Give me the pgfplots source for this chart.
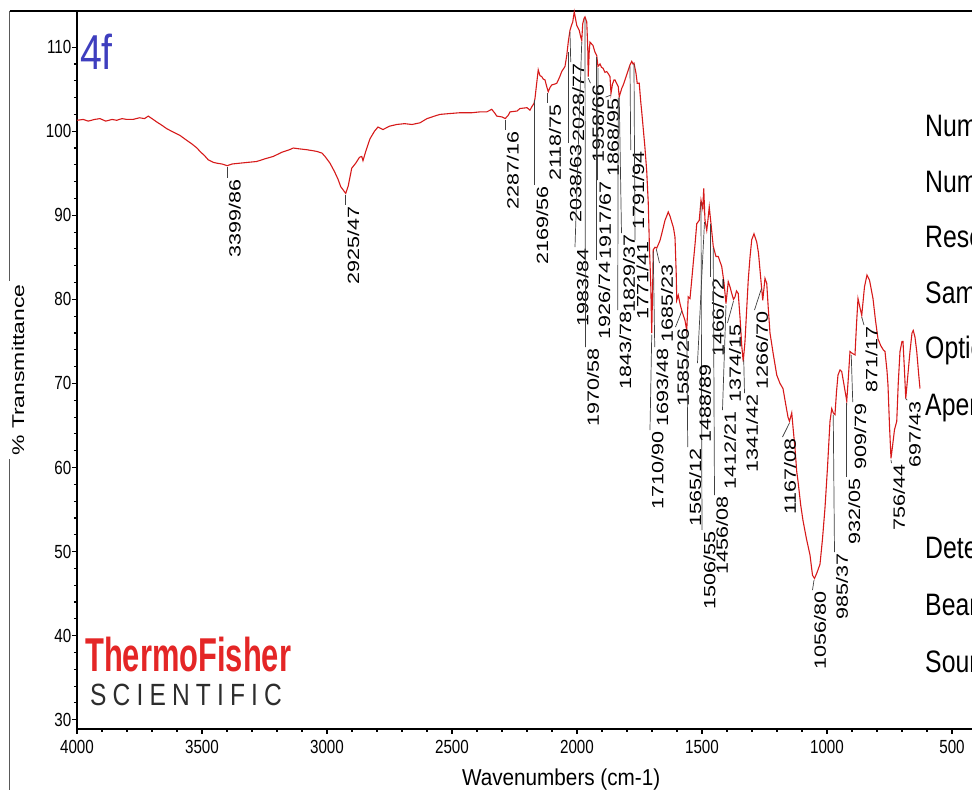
\documentclass[border=0pt]{standalone}
\usepackage{fontspec}
\setmainfont{Liberation Sans}
\newfontfamily\narrowfont[FakeStretch=0.8]{Liberation Sans}
\newfontfamily\xlabfont[FakeStretch=0.9]{Liberation Sans}
\newfontfamily\pkfont[FakeStretch=1.32]{Liberation Sans}
\newfontfamily\ylabfont[FakeStretch=1.35]{Liberation Sans}
\newfontfamily\logofont[FakeStretch=0.65]{Liberation Sans}
\newfontfamily\scifont[FakeStretch=0.8,LetterSpace=20]{Liberation Sans}
\usepackage{pgfplots}
\pgfplotsset{compat=1.18}
\usepackage{pgfplotstable}
\definecolor{spec}{RGB}{214,26,26}
\definecolor{fourf}{RGB}{62,62,190}
\definecolor{logored}{RGB}{228,38,38}
\definecolor{logogray}{RGB}{45,45,45}

\pgfplotstableread{
x y
4000 101.3
3975 101.4
3955 101.2
3930 101.4
3908 101.5
3885 101.2
3860 101.4
3841 101.3
3820 101.5
3800 101.4
3776 101.4
3750 101.6
3730 101.5
3715 101.8
3700 101.5
3681 101.1
3660 100.7
3641 100.3
3615 99.9
3588 99.5
3565 99.0
3541 98.5
3520 98.0
3508 97.6
3490 97.1
3475 96.6
3455 96.3
3441 96.2
3420 96.1
3399 95.9
3380 96.1
3348 96.2
3315 96.3
3281 96.4
3250 96.7
3215 97.0
3180 97.5
3150 97.8
3135 98.0
3110 97.9
3081 97.8
3060 97.7
3041 97.6
3020 97.4
3008 97.0
2988 96.2
2970 95.2
2956 94.3
2945 93.4
2935 93.0
2925 92.6
2915 93.5
2901 95.6
2885 96.2
2870 96.9
2861 97.0
2856 96.5
2845 97.6
2828 99.1
2810 100.0
2796 100.5
2776 100.2
2750 100.6
2721 100.8
2690 100.9
2660 100.8
2628 101.0
2600 101.5
2570 101.8
2548 102.0
2510 102.1
2468 102.2
2420 102.2
2388 102.3
2361 102.3
2341 102.6
2330 102.2
2321 101.8
2300 101.7
2287 101.5
2275 101.9
2268 102.3
2240 102.4
2228 102.7
2200 102.8
2188 102.5
2181 102.9
2172 103.3
2168 103.9
2162 105.5
2155 107.3
2148 106.6
2141 106.5
2135 106.2
2128 106.1
2121 105.3
2115 104.7
2108 105.2
2101 105.5
2090 105.6
2081 105.7
2070 106.4
2061 107.1
2048 107.7
2041 109.0
2035 110.6
2028 112.0
2022 112.6
2017 113.0
2011 114.2
2006 113.4
2001 112.6
1991 112.0
1985 111.2
1981 110.8
1977 112.8
1972 113.4
1968 113.6
1961 113.0
1957 110.0
1955 106.5
1951 109.5
1948 110.6
1942 110.4
1936 110.2
1928 109.4
1921 109.0
1916 107.7
1908 108.0
1902 107.6
1896 107.5
1888 107.0
1881 107.1
1874 106.8
1868 106.5
1864 104.5
1858 105.6
1852 106.1
1848 106.1
1840 105.6
1835 105.3
1831 104.1
1826 104.6
1821 105.1
1815 105.5
1808 106.1
1798 107.0
1788 107.9
1781 108.3
1776 108.0
1772 108.1
1764 106.9
1759 105.7
1751 105.7
1745 103.5
1741 102.3
1728 98.0
1721 95.2
1715 91.5
1710 86.0
1705 81.9
1701 76.0
1697 82.0
1695 85.9
1688 86.2
1681 86.1
1675 86.5
1668 87.0
1661 87.8
1648 89.4
1640 90.0
1635 90.4
1628 89.9
1621 89.2
1614 88.5
1608 87.4
1603 83.0
1601 79.9
1595 80.5
1588 79.5
1582 78.8
1577 78.3
1568 77.5
1561 76.3
1555 80.3
1548 80.1
1542 82.0
1535 84.3
1528 86.5
1521 89.0
1511 89.4
1504 91.8
1497 90.8
1493 93.2
1488 89.4
1481 88.2
1476 89.5
1471 91.0
1464 89.0
1455 86.3
1444 85.1
1435 85.1
1428 84.5
1421 83.9
1412 82.0
1404 79.5
1395 82.1
1388 81.5
1381 80.7
1374 80.0
1368 80.3
1362 81.0
1355 80.7
1348 77.9
1341 74.5
1335 72.6
1328 75.0
1320 79.5
1315 82.3
1308 85.0
1301 87.1
1292 87.8
1281 86.8
1274 85.5
1268 83.5
1262 81.5
1257 79.9
1248 82.5
1241 81.9
1235 79.0
1228 76.0
1215 73.5
1201 71.0
1188 70.0
1176 69.4
1165 67.5
1156 66.0
1150 65.5
1141 66.5
1135 64.5
1128 62.3
1121 59.5
1116 58.4
1105 55.5
1096 53.7
1082 51.5
1068 49.6
1058 47.2
1050 46.8
1040 47.5
1028 48.5
1018 51.5
1008 55.2
998 60.0
988 65.5
981 67.0
975 66.5
968 66.3
962 69.0
956 71.0
948 71.6
941 71.4
930 69.5
921 67.9
915 70.5
908 73.8
900 73.6
888 73.4
882 77.0
876 80.1
868 79.0
861 78.1
850 81.5
840 82.9
830 82.3
816 80.1
806 77.5
796 75.3
785 74.5
775 74.0
768 73.8
760 71.5
756 69.8
750 65.0
744 61.1
738 62.5
730 64.5
721 65.5
715 70.0
708 73.8
700 75.0
696 75.0
690 71.5
685 68.2
678 70.5
668 73.8
660 76.0
655 76.3
648 75.5
641 73.8
633 71.0
628 69.4
}\spectrum

\newcommand{\pk}[5]{\draw[black!75,line width=0.7bp] (axis cs:#1,#2) -- (axis cs:#3,#4) node[rotate=90,anchor=north east,inner sep=1.2bp,text=black,font=\pkfont\fontsize{16.3bp}{17bp}\selectfont] {#5};}

\begin{document}
\begin{tikzpicture}
\useasboundingbox (0,0) rectangle (972bp,790bp);
\clip (0,0) rectangle (972bp,790bp);
% outer frame
\draw[black!65,line width=1.3bp] (9.5bp,0) -- (9.5bp,779bp);
\draw[black,line width=1.5bp] (9.5bp,779bp) -- (980bp,779bp);
\begin{axis}[
  at={(77bp,61bp)}, anchor=south west,
  scale only axis, width=895bp, height=718bp,
  xmin=420, xmax=4000, x dir=reverse,
  ymin=28.9, ymax=114.3,
  axis x line*=bottom, axis y line*=left,
  x axis line style={-,line width=2.6bp},
  y axis line style={-,line width=2bp},
  xtick={500,1000,...,4000},
  ytick={30,40,...,110},
  minor x tick num=4, minor y tick num=4,
  tick align=outside,
  major tick length=5bp, minor tick length=3bp,
  every tick/.style={black,line width=1.1bp},
  clip=false,
  /pgf/number format/assume math mode=true,
  /pgf/number format/1000 sep={},
  tick label style={font=\narrowfont\fontsize{19bp}{20bp}\selectfont},
  yticklabel style={inner sep=0.5bp},
  xticklabel style={inner sep=0bp,yshift=-6bp},
  xlabel={Wavenumbers (cm-1)},
  xlabel style={at={(axis description cs:0.541,0)},anchor=base,yshift=-56bp,
    font=\xlabfont\fontsize{23bp}{24bp}\selectfont},
  ylabel={\% Transmittance},
  ylabel style={at={(axis description cs:-0.0659,0.5)},anchor=center,
    fill=white,inner sep=3bp,font=\ylabfont\fontsize{17bp}{18bp}\selectfont},
]
\addplot[spec,line width=1.1bp] table[x=x,y=y] {\spectrum};
\pk{3399}{95.7}{3399}{94.42}{3399/86}
\pk{2925}{92.4}{2925}{91.21}{2925/47}
\pk{2287}{101.3}{2287}{100.13}{2287/16}
\pk{2169}{103.7}{2169}{93.59}{2169/56}
\pk{2118}{104.5}{2118}{103.34}{2118/75}
\pk{2036}{109.4}{2036}{98.59}{2038/63}
\pk{2028}{111.8}{2025}{108.22}{2028/77}
\pk{1981}{110.6}{2008}{86.22}{1983/84}
\pk{1968}{113.4}{1966}{74.33}{1970/58}
\pk{1955}{106.3}{1946}{105.72}{1958/66}
\pk{1916}{107.5}{1918}{94.19}{1917/67}
\pk{1921}{108.8}{1921}{84.67}{1926/74}
\pk{1864}{104.3}{1886}{104.05}{1868/95}
\pk{1835}{104.0}{1837}{78.73}{1843/78}
\pk{1831}{104.0}{1822}{87.88}{1829/37}
\pk{1788}{107.7}{1785}{97.75}{1791/94}
\pk{1772}{108.0}{1768}{87.05}{1771/41}
\pk{1701}{75.8}{1708}{64.46}{1710/90}
\pk{1695}{85.7}{1689}{74.33}{1693/48}
\pk{1683}{86.0}{1670}{84.32}{1685/23}
\pk{1581}{78.6}{1606}{76.71}{1585/26}
\pk{1561}{76.1}{1557}{62.44}{1565/12}
\pk{1504}{91.6}{1500}{52.57}{1506/55}
\pk{1490}{89.2}{1518}{72.43}{1488/89}
\pk{1466}{89.0}{1466}{82.65}{1466/72}
\pk{1455}{86.1}{1450}{56.73}{1456/08}
\pk{1404}{79.3}{1418}{66.84}{1412/21}
\pk{1374}{79.8}{1398}{77.19}{1374/15}
\pk{1333}{72.8}{1330}{68.86}{1341/42}
\pk{1262}{81.3}{1290}{78.73}{1266/70}
\pk{1150}{65.3}{1178}{63.63}{1167/08}
\pk{1052}{46.6}{1058}{45.43}{1056/80}
\pk{975}{66.3}{970}{49.95}{985/37}
\pk{921}{67.7}{921}{58.87}{932/05}
\pk{903}{73.4}{897}{67.79}{909/79}
\pk{861}{77.9}{852}{76.94}{871/17}
\pk{744}{60.9}{742}{60.53}{756/44}
\pk{686}{68.2}{679}{68.03}{697/43}
\end{axis}
% sample name
\node[anchor=base west,inner sep=0,text=fourf,font=\narrowfont\fontsize{49bp}{50bp}\selectfont] at (80bp,720bp) {4f};
% logo
\node[anchor=base west,inner sep=0,text=logored,font=\logofont\bfseries\fontsize{47.5bp}{48bp}\selectfont] at (85bp,118bp) {ThermoFisher};
\node[anchor=base west,inner sep=0,text=logogray,font=\scifont\fontsize{30.7bp}{31bp}\selectfont] at (90bp,84bp) {SCIENTIFIC};
% parameter block (cut at the right edge, as in the reference)
\begin{scope}[every node/.style={anchor=base west,inner sep=0,font=\narrowfont\fontsize{31bp}{32bp}\selectfont}]
\node at (925bp,653bp) {Num};
\node at (925bp,597bp) {Num};
\node at (925bp,542bp) {Reso};
\node at (925bp,486bp) {Sam};
\node at (925bp,431bp) {Optic};
\node at (925bp,374bp) {Aper};
\node at (925bp,231bp) {Dete};
\node at (925bp,174bp) {Beam};
\node at (925bp,117bp) {Sour};
\end{scope}
\end{tikzpicture}
\end{document}
